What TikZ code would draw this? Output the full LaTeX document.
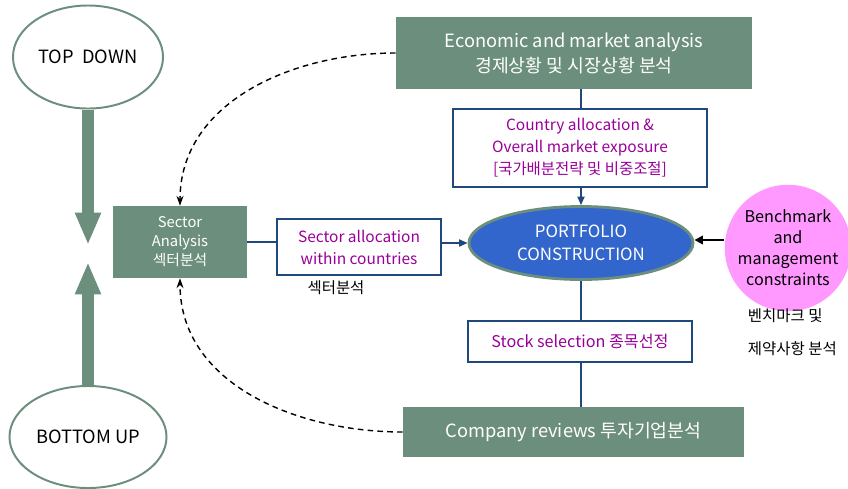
\documentclass[tikz,border=0pt]{standalone}
\usepackage{fontspec}
\setmainfont{Noto Sans CJK KR}
\usetikzlibrary{shapes.geometric,arrows.meta}
\definecolor{boxGreen}{RGB}{108,143,125}
\definecolor{lineNavy}{RGB}{31,73,125}
\definecolor{textPurple}{RGB}{153,0,153}
\definecolor{portBlue}{RGB}{51,102,204}
\definecolor{benchPink}{RGB}{255,153,255}
\begin{document}
\begin{tikzpicture}
[x=0.025cm,y=-0.025cm,
  greenBox/.style={shape=rectangle,fill=boxGreen,text=white,align=center,inner sep=0pt},%
  whiteBox/.style={shape=rectangle,draw=lineNavy,line width=0.8pt,fill=white,text=textPurple,align=center,inner sep=0pt},%
  ovalDecorate/.style={shape=ellipse,draw=boxGreen,line width=1.4pt,fill=white,inner sep=0pt},%
  lineDecorate/.style={-,draw=lineNavy,line width=1.2pt},%
  arrowDecorate/.style={lineDecorate,-{Triangle[length=6pt,width=5pt]}},%
  dashDecorate/.style={dash pattern=on 4pt off 3pt,line width=1pt,-{Stealth[length=7pt,width=5pt]}},%
  bigArrow/.style={draw=boxGreen,line width=8pt,-{Triangle[length=23pt,width=17pt]}}]
\useasboundingbox (0,0) rectangle (848,488);
%% top down / bottom up
\node (topdown) at (88,57) [ovalDecorate,minimum width=3.75cm,minimum height=2.575cm,font=\fontsize{13}{15}\selectfont] {TOP\ \ DOWN};
\node (bottomup) at (88,437) [ovalDecorate,minimum width=3.925cm,minimum height=2.55cm,font=\fontsize{13}{15}\selectfont] {BOTTOM UP};
\coordinate (tdtip) at (88,245);
\coordinate (butip) at (88,262);
\draw[bigArrow] (topdown) -- (tdtip);
\draw[bigArrow] (bottomup) -- (butip);
%% boxes
\node (econ) at (574,53) [greenBox,minimum width=8.9cm,minimum height=1.8cm,font=\fontsize{13}{17.7}\selectfont]
  {Economic and market analysis\\경제상황 및 시장상황 분석};
\node (country) at (580,148) [whiteBox,minimum width=6.35cm,minimum height=1.95cm,font=\fontsize{11}{15.6}\selectfont]
  {Country allocation \&\\Overall market exposure\\{[}국가배분전략 및 비중조절{]}};
\node (sector) at (180,242) [greenBox,minimum width=3.35cm,minimum height=1.8cm,font=\fontsize{10.5}{13.5}\selectfont]
  {Sector\\Analysis\\섹터분석};
\node (alloc) at (359,247) [whiteBox,minimum width=4.1cm,minimum height=1.4cm,font=\fontsize{11}{15.6}\selectfont]
  {Sector allocation\\within countries};
\node (port) at (581,243) [shape=ellipse,draw=boxGreen,line width=2pt,fill=portBlue,text=white,align=center,
  minimum width=5.6cm,minimum height=1.825cm,inner sep=0pt,font=\fontsize{12}{16.5}\selectfont]
  {PORTFOLIO\\CONSTRUCTION};
\node (stock) at (580,341.5) [whiteBox,minimum width=5.6cm,minimum height=1.025cm,font=\fontsize{11.5}{15}\selectfont]
  {Stock selection 종목선정};
\node (company) at (573.5,432) [greenBox,minimum width=8.525cm,minimum height=1.25cm,font=\fontsize{13}{17.7}\selectfont]
  {Company reviews 투자기업분석};
\node (bench) at (788,248) [shape=circle,fill=benchPink,align=center,minimum size=3.05cm,inner sep=0pt,font=\fontsize{11.5}{15}\selectfont]
  {Benchmark\\and\\management\\constraints};
%% plain labels
\node (sectorkr) at (336,288) [font=\fontsize{11}{13}\selectfont] {섹터분석};
\node (benchkra) at (743,316) [anchor=west,font=\fontsize{11}{13}\selectfont] {벤치마크 및};
\node (benchkrb) at (743,349) [anchor=west,font=\fontsize{11}{13}\selectfont] {제약사항 분석};
%% connectors
\draw[lineDecorate] (port.north |- econ.south) -- (port.north |- country.north);
\draw[arrowDecorate] (port.north |- country.south) -- (port.north);
\draw[lineDecorate] (sector.east) -- (sector.east -| alloc.west);
\draw[arrowDecorate] (alloc.east |- port.west) -- (port.west);
\draw[lineDecorate] (port.south) -- (port.south |- stock.north);
\draw[lineDecorate] (port.south |- stock.south) -- (port.south |- company.north);
\draw[-{Triangle[length=6pt,width=6pt]},line width=2pt] (bench.west |- 0,240) -- (port.east |- 0,240);
\draw[dashDecorate] (econ.west) to[out=180,in=90] (sector.north);
\draw[dashDecorate] (company.west) to[out=180,in=-90] (sector.south);
\end{tikzpicture}
\end{document}
